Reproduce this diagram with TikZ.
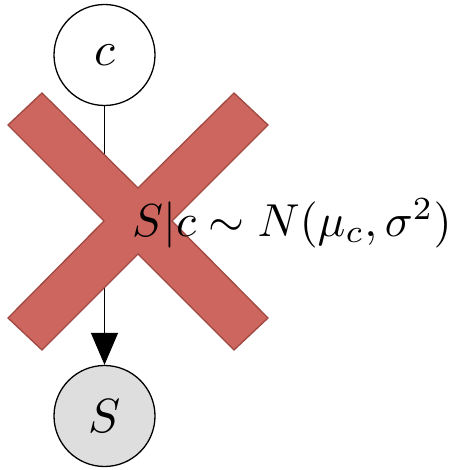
\documentclass[tikz,border=0pt]{standalone}
\usetikzlibrary{arrows.meta}
\definecolor{xfill}{RGB}{204,102,94}
\definecolor{xdraw}{RGB}{160,72,66}
\definecolor{obsfill}{RGB}{222,222,222}
\newcommand{\bigtxt}[1]{\scalebox{4.8}{#1}}
\newcommand{\eqtxt}[1]{\scalebox{4.62}{#1}}
\begin{document}
\begin{tikzpicture}[x=1pt,y=-1pt,
  var/.style={circle,draw=black,line width=1.3pt,minimum size=101pt,inner sep=0pt},
  obs/.style={var,fill=obsfill},
  edge/.style={line width=1.4pt,-{Triangle[length=32pt,width=27pt]}},
  cross/.style={fill=xfill,draw=xdraw,line width=1.3pt},
  lbl/.style={inner sep=0pt}]
\useasboundingbox (0,0) rectangle (460,470);
\node[var] (c) at (104.5,55) {\bigtxt{$c$}};
\node[obs] (S) at (104.5,416) {\bigtxt{$S$}};
\draw[edge] (c) -- (S);
\draw[cross] (42,93) -- (138,188) -- (234,93) -- (268,125) -- (172,221) -- (268,318) -- (234,350) -- (138,254) -- (42,350) -- (8,318) -- (104,221) -- (8,125) -- cycle;
\node[lbl,anchor=base west] (eq) at (132,236) {\eqtxt{$S|c \sim N(\mu_c,\sigma^2)$}};
\end{tikzpicture}
\end{document}
